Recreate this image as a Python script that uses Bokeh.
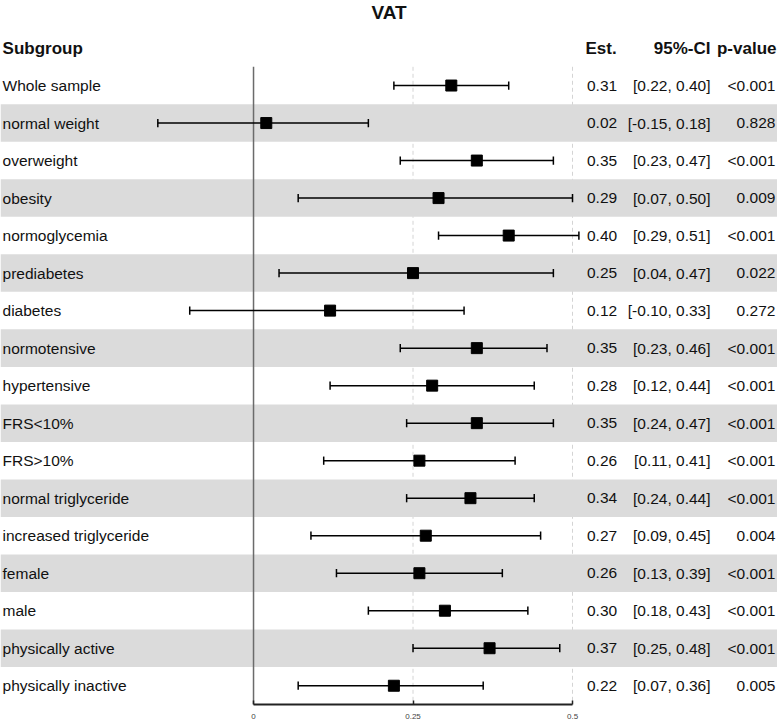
from bokeh.plotting import figure
from bokeh.models import Range1d, LinearAxis, FixedTicker, NumeralTickFormatter
from bokeh.core.properties import value
from bokeh.embed import file_html
from bokeh.resources import INLINE

# ---------------- data ----------------
title = "VAT"
headers = ["Subgroup", "Est.", "95%-CI", "p-value"]
subgroups = ["Whole sample", "normal weight", "overweight", "obesity",
             "normoglycemia", "prediabetes", "diabetes", "normotensive",
             "hypertensive", "FRS<10%", "FRS>10%", "normal triglyceride",
             "increased triglyceride", "female", "male", "physically active",
             "physically inactive"]
est = [0.31, 0.02, 0.35, 0.29, 0.40, 0.25, 0.12, 0.35, 0.28, 0.35, 0.26,
       0.34, 0.27, 0.26, 0.30, 0.37, 0.22]
lower = [0.22, -0.15, 0.23, 0.07, 0.29, 0.04, -0.10, 0.23, 0.12, 0.24, 0.11,
         0.24, 0.09, 0.13, 0.18, 0.25, 0.07]
upper = [0.40, 0.18, 0.47, 0.50, 0.51, 0.47, 0.33, 0.46, 0.44, 0.47, 0.41,
         0.44, 0.45, 0.39, 0.43, 0.48, 0.36]
est_labels = ["0.31", "0.02", "0.35", "0.29", "0.40", "0.25", "0.12", "0.35",
              "0.28", "0.35", "0.26", "0.34", "0.27", "0.26", "0.30", "0.37", "0.22"]
ci_labels = ["[0.22, 0.40]", "[-0.15, 0.18]", "[0.23, 0.47]", "[0.07, 0.50]",
             "[0.29, 0.51]", "[0.04, 0.47]", "[-0.10, 0.33]", "[0.23, 0.46]",
             "[0.12, 0.44]", "[0.24, 0.47]", "[0.11, 0.41]", "[0.24, 0.44]",
             "[0.09, 0.45]", "[0.13, 0.39]", "[0.18, 0.43]", "[0.25, 0.48]",
             "[0.07, 0.36]"]
p_labels = ["<0.001", "0.828", "<0.001", "0.009", "<0.001", "0.022", "0.272",
            "<0.001", "<0.001", "<0.001", "<0.001", "<0.001", "0.004", "<0.001",
            "<0.001", "<0.001", "0.005"]
ref_ticks = [0, 0.25, 0.5]

# ---------------- layout ----------------
n = len(subgroups)
rows = list(range(n))
X0, X1 = -0.3966, 0.8213
FONT = value("Liberation Sans")

p = figure(frame_width=777, frame_height=704,
           x_range=Range1d(X0, X1), y_range=Range1d(n - 0.5, -2.267),
           x_axis_type=None, y_axis_type=None,
           toolbar_location=None, output_backend="svg",
           min_border=0, outline_line_color=None)

# dashed reference lines
dash_x = ref_ticks[1:]
p.segment(x0=dash_x, y0=[-0.5] * len(dash_x), x1=dash_x, y1=[n - 0.5] * len(dash_x),
          line_color="#d4d4d4", line_width=1, line_dash="4 3")

# alternating bands
band_rows = [r for r in rows if r % 2 == 1]
p.hbar(y=band_rows, height=1, left=X0, right=X1, fill_color="#dbdbdb", line_color=None)

# zero line
p.segment(x0=ref_ticks[:1], y0=[-0.5], x1=ref_ticks[:1], y1=[n - 0.5],
          line_color="#6b6b6b", line_width=1.5)

# whiskers
p.segment(x0=lower, y0=rows, x1=upper, y1=rows, line_color="black", line_width=1.5)
cap = 0.11
p.segment(x0=lower, y0=[r - cap for r in rows], x1=lower, y1=[r + cap for r in rows],
          line_color="black", line_width=1.5)
p.segment(x0=upper, y0=[r - cap for r in rows], x1=upper, y1=[r + cap for r in rows],
          line_color="black", line_width=1.5)

# boxes
p.scatter(x=est, y=rows, marker="square", size=11, fill_color="black", line_color="black")

# texts
BODY = "15.5px"
p.text(x=-0.3934, y=rows, text=subgroups, text_font=FONT, text_font_size=BODY,
       text_baseline="middle", text_align="left", text_color="#111111")
p.text(x=0.5227, y=rows, text=est_labels, text_font=FONT, text_font_size=BODY,
       text_baseline="middle", text_align="left", text_color="#111111")
p.text(x=0.7163, y=rows, text=ci_labels, text_font=FONT, text_font_size=BODY,
       text_baseline="middle", text_align="right", text_color="#111111")
p.text(x=0.818, y=rows, text=p_labels, text_font=FONT, text_font_size=BODY,
       text_baseline="middle", text_align="right", text_color="#111111")

# headers
hx = [-0.3934, 0.5204, 0.7163, 0.8197]
halign = ["left", "left", "right", "right"]
for h, x, a in zip(headers, hx, halign):
    p.text(x=[x], y=[-1.0], text=[h], text_font=FONT, text_font_size="17px",
           text_font_style="bold", text_baseline="middle", text_align=a, text_color="#111111")

# title
p.text(x=[(X0 + X1) / 2], y=[-1.95], text=[title], text_font=FONT, text_font_size="19px",
       text_font_style="bold", text_baseline="middle", text_align="center", text_color="#111111")

# axis
ax = LinearAxis(ticker=FixedTicker(ticks=ref_ticks),
                formatter=NumeralTickFormatter(format="0.[00]"),
                bounds=(ref_ticks[0], ref_ticks[-1]),
                axis_line_color="#222222", axis_line_width=2,
                major_tick_in=4, major_tick_out=0, major_tick_line_color="#222222",
                major_tick_line_width=1.5,
                minor_tick_line_color=None,
                major_label_text_font_size="8px", major_label_text_color="#444444",
                major_label_text_font="Liberation Sans", major_label_standoff=9)
p.add_layout(ax, "below")

open("out.html", "w").write(file_html(p, INLINE))
